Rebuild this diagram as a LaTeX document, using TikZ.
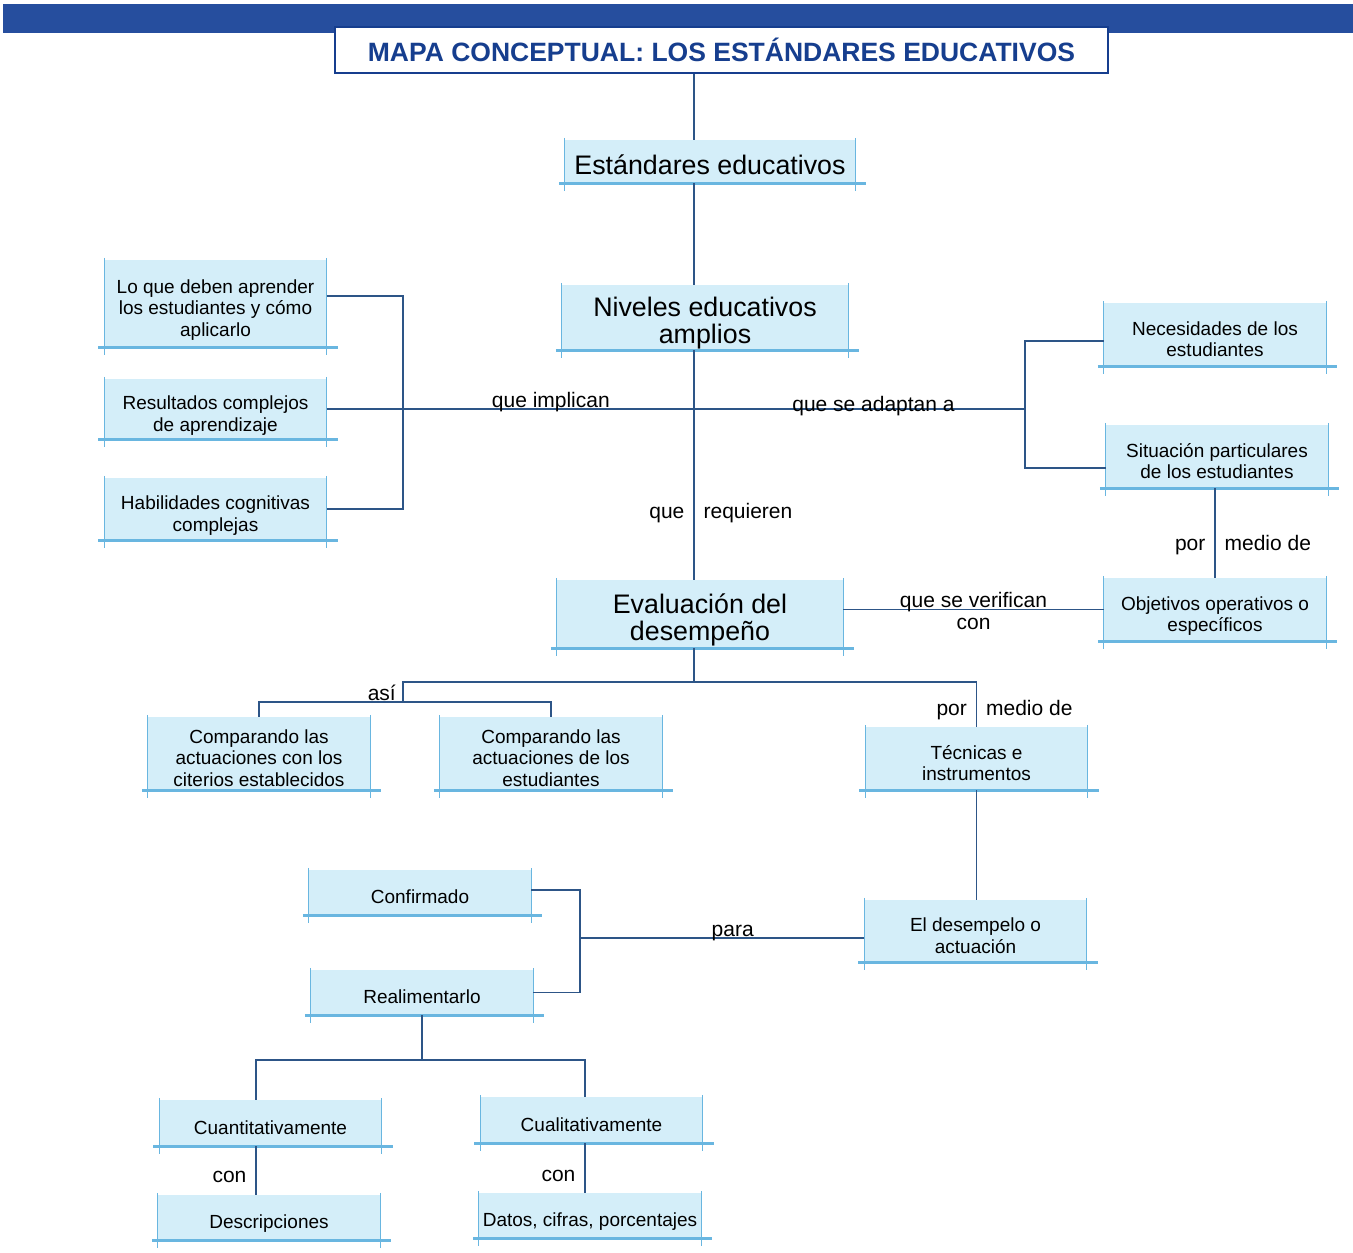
\documentclass[tikz,border=0pt]{standalone}
\usepackage{fontspec}
\setmainfont{Liberation Sans}
\definecolor{celeste}{RGB}{212,238,249}
\definecolor{bordeazul}{RGB}{105,182,224}
\definecolor{lineaazul}{RGB}{45,85,135}
\definecolor{banda}{RGB}{38,78,158}
\definecolor{tituloazul}{RGB}{22,62,142}
% texto de caja, un poco mas abajo del centro
\newcommand{\cajatexto}[1]{\raisebox{-7pt}[\height][\depth]{\begin{tabular}{@{}c@{}}#1\end{tabular}}}
\begin{document}
\begin{tikzpicture}[x=1pt,y=-1pt] % mapa conceptual
\tikzstyle{lado} = [draw=bordeazul, line width=1pt] % bordes laterales de cada caja
\tikzstyle{linbase} = [draw=bordeazul, line width=2.6pt] % linea gruesa inferior
\tikzstyle{concepto} = [fill=celeste, inner sep=0pt, minimum width=222pt, font=\fontsize{19}{21.5}\selectfont,
  append after command={([yshift=2pt]\tikzlastnode.north west) edge[lado] ([yshift=-8pt]\tikzlastnode.south west)
    ([yshift=2pt]\tikzlastnode.north east) edge[lado] ([yshift=-8pt]\tikzlastnode.south east)
    ([xshift=-6pt]\tikzlastnode.south west) edge[linbase] ([xshift=11pt]\tikzlastnode.south east)}] % caja celeste
\tikzstyle{grande} = [concepto, font=\fontsize{26.8}{26}\selectfont] % conceptos principales
\tikzstyle{enlace} = [draw=lineaazul, line width=1.2pt] % conectores
\tikzstyle{etiqueta} = [font=\fontsize{21}{23}\selectfont, inner sep=4pt] % palabras de enlace
\tikzstyle{lateral} = [etiqueta, inner xsep=9pt] % a los lados de una linea vertical

\useasboundingbox (0,0) rectangle (1353,1253);
\fill[banda] (3,4) rectangle (1353,33); % franja superior

\node[draw=tituloazul, line width=1.6pt, fill=white, minimum width=773pt, minimum height=46pt,
  font=\fontsize{26.5}{26.5}\selectfont\bfseries, text=tituloazul] (titulo) at (721.5,50) {MAPA CONCEPTUAL: LOS ESTÁNDARES EDUCATIVOS};

% conceptos
\node[grande, minimum width=290pt, minimum height=43pt] (estandares) at (710,161.5) {\cajatexto{Estándares educativos}};
\node[grande, minimum width=286pt, minimum height=65pt] (niveles) at (705,317.5) {\cajatexto{Niveles educativos\\amplios}};
\node[concepto, minimum height=87pt] (aprender) at (215.5,303.5) {\cajatexto{Lo que deben aprender\\los estudiantes y cómo\\aplicarlo}};
\node[concepto, minimum height=60pt] (resultados) at (215.5,409) {\cajatexto{Resultados complejos\\de aprendizaje}};
\node[concepto, minimum height=62pt] (habilidades) at (215.5,509) {\cajatexto{Habilidades cognitivas\\complejas}};
\node[concepto, minimum height=63pt] (necesidades) at (1215,334.5) {\cajatexto{Necesidades de los\\estudiantes}};
\node[concepto, minimum height=63pt] (situacion) at (1217,456.5) {\cajatexto{Situación particulares\\de los estudiantes}};
\node[concepto, minimum height=63pt] (objetivos) at (1215,609.5) {\cajatexto{Objetivos operativos o\\específicos}};
\node[grande, minimum width=286pt, minimum height=68pt] (evaluacion) at (700,614) {\cajatexto{Evaluación del\\desempeño}};
\node[concepto, minimum height=73pt] (comparaA) at (259,753.5) {\cajatexto{Comparando las\\actuaciones con los\\citerios establecidos}};
\node[concepto, minimum height=73pt] (comparaB) at (551,753.5) {\cajatexto{Comparando las\\actuaciones de los\\estudiantes}};
\node[concepto, minimum height=63pt] (tecnicas) at (976.5,758.5) {\cajatexto{Técnicas e\\instrumentos}};
\node[concepto, minimum height=62pt] (desempelo) at (975.5,931) {\cajatexto{El desempelo o\\actuación}};
\node[concepto, minimum height=45pt] (confirmado) at (420,892.5) {\cajatexto{Confirmado}};
\node[concepto, minimum height=45pt] (realimentarlo) at (422,992.5) {\cajatexto{Realimentarlo}};
\node[concepto, minimum height=46pt] (cuanti) at (270.5,1123) {\cajatexto{Cuantitativamente}};
\node[concepto, minimum height=46pt] (cuali) at (591.5,1120) {\cajatexto{Cualitativamente}};
\node[concepto, minimum height=45pt] (descripciones) at (269,1217.5) {\cajatexto{Descripciones}};
\node[concepto, minimum height=45pt] (datos) at (590,1215.5) {\cajatexto{Datos, cifras, porcentajes}};

% puntos de union
\coordinate (eje) at (694,0);
\coordinate (llaveI) at (403,409);
\coordinate (llaveD) at (1025,409);
\coordinate (ramaE) at (694,682);
\coordinate (asi) at (403,702);
\coordinate (llaveP) at (580,938);
\coordinate (ramaR) at (422,1060);
\coordinate (bajaA) at (256,1060);
\coordinate (bajaB) at (585,1060);

% conectores
\draw[enlace] (titulo.south -| eje) -- (estandares.north -| eje);
\draw[enlace] (estandares.south -| eje) -- (niveles.north -| eje);
\draw[enlace] (niveles.south -| eje) -- (evaluacion.north -| eje)
  node[lateral, pos=0.735, anchor=base east] {que} node[lateral, pos=0.735, anchor=base west] {requieren};
\draw[enlace] (resultados.east) -- (llaveD)
  node[etiqueta, pos=0.321, anchor=base, yshift=1.5pt] {que implican}
  node[etiqueta, pos=0.783, anchor=base, yshift=-2.5pt] {que se adaptan a};
\draw[enlace] ([yshift=7.5pt]aprender.east) -| (llaveI) |- (habilidades.east);
\draw[enlace] ([yshift=-6.5pt]necesidades.west) -| (llaveD) |- ([yshift=-11.5pt]situacion.west);
\draw[enlace] (situacion.south -| objetivos) -- (objetivos.north)
  node[lateral, pos=0.69, anchor=base east] {por} node[lateral, pos=0.69, anchor=base west] {medio de};
\draw[enlace] (evaluacion.east |- objetivos.west) -- (objetivos.west)
  node[etiqueta, midway, anchor=base, yshift=2pt] {que se verifican}
  node[etiqueta, midway, anchor=base, yshift=-20pt] {con};
\draw[enlace] (evaluacion.south -| eje) -- (ramaE);
\draw[enlace] (asi) |- (ramaE) -- (ramaE -| tecnicas) -- (tecnicas.north)
  node[lateral, pos=0.75, anchor=base east] {por} node[lateral, pos=0.75, anchor=base west] {medio de};
\draw[enlace] (comparaA.north) |- (asi) -| (comparaB.north);
\node[etiqueta, anchor=base east, inner sep=0pt, xshift=-7pt, yshift=2pt] (asilabel) at (asi) {así};
\draw[enlace] (tecnicas.south) -- (desempelo.north -| tecnicas.south);
\draw[enlace] ([yshift=-7pt]desempelo.west) -- (llaveP)
  node[etiqueta, pos=0.463, anchor=base, yshift=2pt] {para};
\draw[enlace] ([yshift=2.5pt]confirmado.east) -| (llaveP) |- (realimentarlo.east);
\draw[enlace] (realimentarlo.south) -- (ramaR);
\draw[enlace] (cuanti.north -| bajaA) |- (bajaB) -- (cuali.north -| bajaB);
\draw[enlace] (cuanti.south -| bajaA) -- (descripciones.north -| bajaA)
  node[lateral, pos=0.755, anchor=base east] {con};
\draw[enlace] (cuali.south -| bajaB) -- (datos.north -| bajaB)
  node[lateral, pos=0.78, anchor=base east] {con};
\end{tikzpicture}
\end{document}
